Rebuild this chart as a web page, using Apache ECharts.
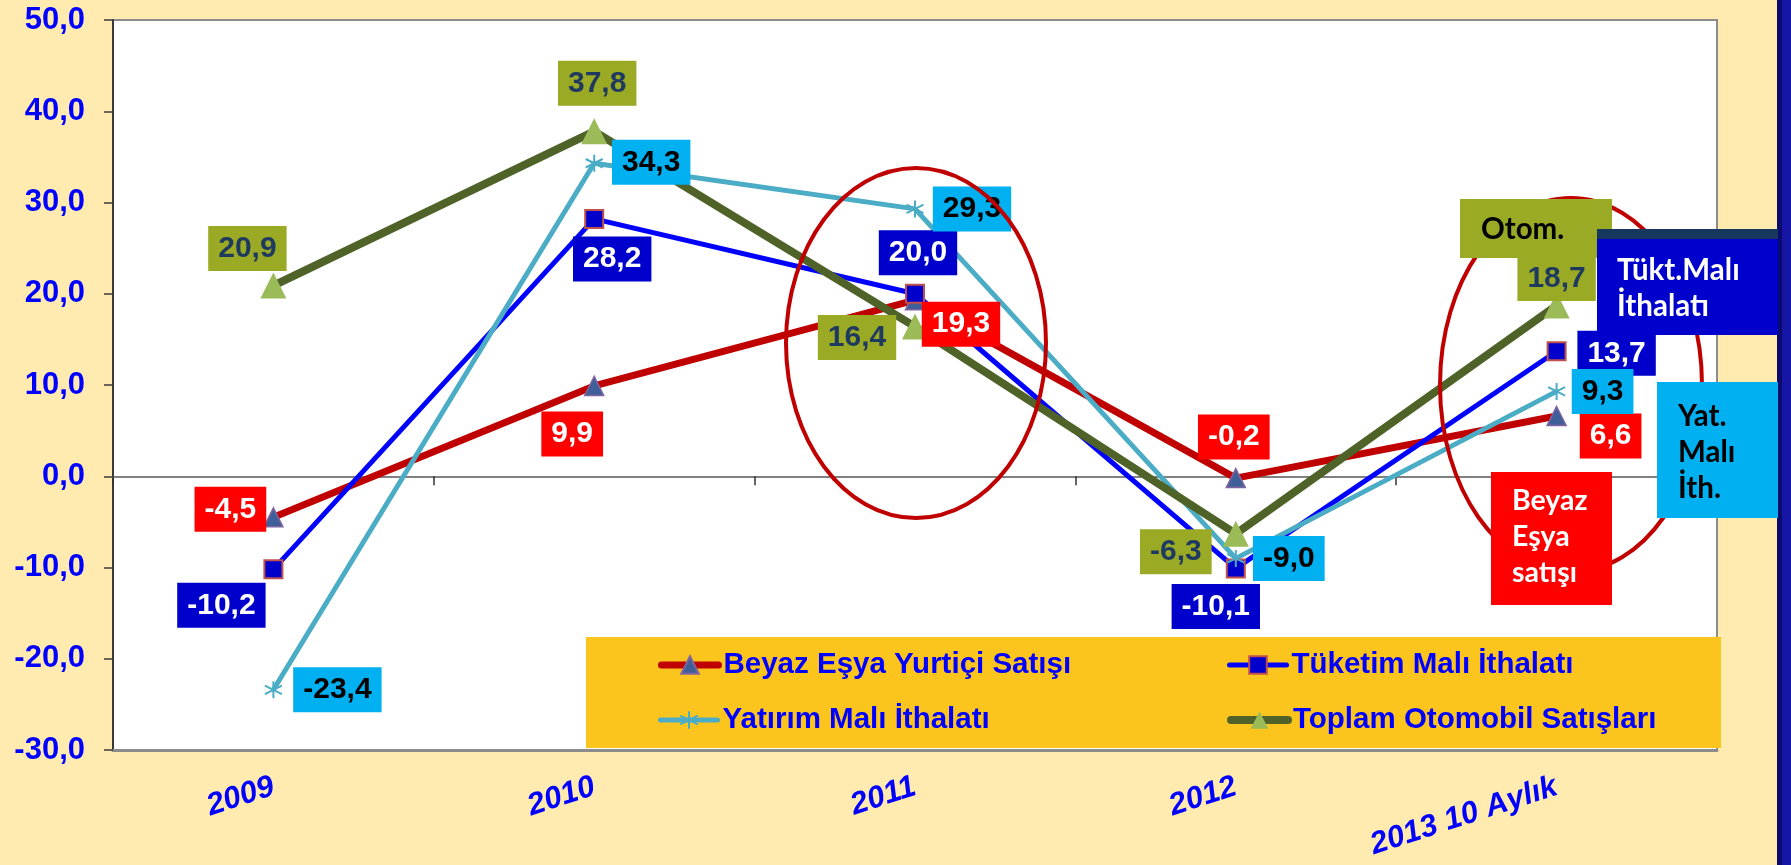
<!DOCTYPE html>
<html>
<head>
<meta charset="utf-8">
<style>
  html, body { margin: 0; padding: 0; background: #FFEAAF; }
  #chart { width: 1791px; height: 865px; }
</style>
</head>
<body>
<div id="chart"></div>
<script src="https://cdn.jsdelivr.net/npm/echarts@6/dist/echarts.min.js"></script>
<script>
// data
var years = ['2009', '2010', '2011', '2012', '2013 10 Aylık'];
var beyazEsya = [-4.5, 9.9, 19.3, -0.2, 6.6];
var tuketim = [-10.2, 28.2, 20.0, -10.1, 13.7];
var yatirim = [-23.4, 34.3, 29.3, -9.0, 9.3];
var otomobil = [20.9, 37.8, 16.4, -6.3, 18.7];
var yMin = -30, yMax = 50, yStep = 10;

// where each value box sits, relative to its point (styling only)
var beyazOffsets = [[-43, -8], [-22, 48], [46, 24], [-2, -41], [54, 20]];
var tuketimOffsets = [[-52, 36], [18, 40], [3, -41], [-20, 38], [60, 2]];
var yatirimOffsets = [[64, 0], [57, -1], [57, 0], [53, 0], [46, 0]];
var otomobilOffsets = [[-26, -37], [3, -48], [-58, 11], [-60, 18], [0, -27]];

var FONT = '"Liberation Sans", Arial, sans-serif';
var NOTE_FONT = 'Lato, "Open Sans", sans-serif';

function fmt(v) {
    return Number(v).toFixed(1).replace('.', ',');
}

function withLabels(values, offsets) {
    return values.map(function (v, i) {
        return { value: v, label: { offset: offsets[i] } };
    });
}

function valueLabel(bg, color) {
    return {
        show: true,
        position: 'inside',
        formatter: function (p) { return fmt(p.value); },
        fontFamily: FONT,
        fontWeight: 'bold',
        fontSize: 30,
        lineHeight: 31,
        padding: [7, 10],
        color: color,
        backgroundColor: bg,
        textBorderWidth: 0,
        textBorderColor: 'transparent'
    };
}

var asterisk = 'path://M10,0L10,20M1.34,5L18.66,15M1.34,15L18.66,5';

var chart = echarts.init(document.getElementById('chart'));

var legendText = {
    color: '#0000FF',
    fontFamily: FONT,
    fontWeight: 'bold',
    fontSize: 29.5
};

function legendAt(name, left, top) {
    return {
        data: [name],
        left: left,
        top: top,
        padding: 0,
        itemWidth: 57,
        itemHeight: 22,
        selectedMode: false,
        textStyle: legendText,
        lineStyle: { width: 'inherit', cap: 'round' }
    };
}

function noteText(x, y, text, color, size) {
    return {
        type: 'text',
        x: x,
        y: y,
        z: 120,
        style: {
            text: text,
            fill: color,
            font: 'bold ' + size + 'px ' + NOTE_FONT,
            lineHeight: 36,
            textVerticalAlign: 'top'
        }
    };
}

chart.setOption({
    backgroundColor: '#FFEAAF',
    animation: false,
    grid: {
        left: 113,
        right: 74,
        top: 20,
        bottom: 115,
        show: true,
        backgroundColor: '#FFFFFF',
        borderColor: '#8C8C8C',
        borderWidth: 2
    },
    legend: [
        legendAt('Beyaz Eşya Yurtiçi Satışı', 658, 650),
        legendAt('Tüketim Malı İthalatı', 1227, 650),
        legendAt('Yatırım Malı İthalatı', 658, 705),
        legendAt('Toplam Otomobil Satışları', 1227, 705)
    ],
    xAxis: [{
        type: 'category',
        data: years,
        position: 'bottom',
        boundaryGap: true,
        axisLine: { onZero: false, lineStyle: { color: '#8C8C8C', width: 3 } },
        axisTick: { show: false },
        axisLabel: {
            interval: 0,
            rotate: 18,
            margin: 36,
            color: '#0000FF',
            fontFamily: FONT,
            fontWeight: 'bold',
            fontStyle: 'italic',
            fontSize: 31
        },
        splitLine: { show: false }
    }, {
        type: 'category',
        data: years,
        position: 'bottom',
        boundaryGap: true,
        axisLine: { onZero: true, lineStyle: { color: '#808080', width: 2 } },
        axisTick: { show: true, length: 9, lineStyle: { color: '#333333', width: 1.5 } },
        axisLabel: { show: false },
        splitLine: { show: false }
    }],
    yAxis: {
        type: 'value',
        min: yMin,
        max: yMax,
        interval: yStep,
        axisLine: { show: true, lineStyle: { color: '#3A3A3A', width: 2 } },
        axisTick: { show: true, length: 9, lineStyle: { color: '#3A3A3A', width: 1.5 } },
        axisLabel: {
            margin: 28,
            color: '#0000FF',
            fontFamily: FONT,
            fontWeight: 'bold',
            fontSize: 31,
            formatter: fmt
        },
        splitLine: { show: false }
    },
    series: [{
        name: 'Beyaz Eşya Yurtiçi Satışı',
        type: 'line',
        data: withLabels(beyazEsya, beyazOffsets),
        symbol: 'triangle',
        symbolSize: 19,
        itemStyle: { color: '#3F5F99', borderColor: '#8064A2', borderWidth: 1.5 },
        lineStyle: { color: '#C00000', width: 7 },
        label: valueLabel('#FF0000', '#FFFFFF')
    }, {
        name: 'Tüketim Malı İthalatı',
        type: 'line',
        data: withLabels(tuketim, tuketimOffsets),
        symbol: 'rect',
        symbolSize: 18,
        itemStyle: { color: '#0000CC', borderColor: '#C0504D', borderWidth: 2 },
        lineStyle: { color: '#0000FF', width: 5 },
        label: valueLabel('#0000CC', '#FFFFFF')
    }, {
        name: 'Yatırım Malı İthalatı',
        type: 'line',
        data: withLabels(yatirim, yatirimOffsets),
        symbol: asterisk,
        symbolSize: 17,
        itemStyle: { color: '#4BACC6', borderColor: '#4BACC6', borderWidth: 2 },
        lineStyle: { color: '#4BACC6', width: 5 },
        label: valueLabel('#00B0F0', '#000000')
    }, {
        name: 'Toplam Otomobil Satışları',
        type: 'line',
        data: withLabels(otomobil, otomobilOffsets),
        symbol: 'triangle',
        symbolSize: 26,
        itemStyle: { color: '#9BBB59' },
        lineStyle: { color: '#4F6228', width: 8 },
        label: valueLabel('#9BAA25', '#1F3A5F')
    }],
    graphic: [
        // slide frame on the right
        { type: 'rect', z: 0, shape: { x: 1777, y: 0, width: 5, height: 865 }, style: { fill: '#0A0A6E' } },
        { type: 'rect', z: 0, shape: { x: 1782, y: 0, width: 9, height: 865 }, style: { fill: '#1616A6' } },
        // legend panel
        { type: 'rect', z: 1, shape: { x: 586, y: 637, width: 1135, height: 111 }, style: { fill: '#FCC51E' } },
        // highlight rings
        { type: 'ellipse', z: 100, shape: { cx: 916, cy: 343, rx: 130, ry: 175 },
          style: { fill: null, stroke: '#C00000', lineWidth: 4 } },
        { type: 'ellipse', z: 100, shape: { cx: 1571, cy: 385, rx: 131, ry: 187 },
          style: { fill: null, stroke: '#C00000', lineWidth: 4 } },
        // side notes
        { type: 'rect', z: 110, shape: { x: 1460, y: 199, width: 152, height: 59 }, style: { fill: '#9BAA25' } },
        noteText(1481, 211, 'Otom.', '#000000', 29.5),
        { type: 'rect', z: 110, shape: { x: 1597, y: 229, width: 181, height: 10 }, style: { fill: '#17375E' } },
        { type: 'rect', z: 110, shape: { x: 1597, y: 239, width: 181, height: 96 }, style: { fill: '#0000CC' } },
        noteText(1617, 252, 'Tükt.Malı\nİthalatı', '#FFFFFF', 29.5),
        { type: 'rect', z: 110, shape: { x: 1657, y: 382, width: 121, height: 136 }, style: { fill: '#00B0F0' } },
        noteText(1678, 398, 'Yat.\nMalı\nİth.', '#000000', 29.5),
        { type: 'rect', z: 110, shape: { x: 1491, y: 472, width: 121, height: 133 }, style: { fill: '#FF0000' } },
        noteText(1512, 483, 'Beyaz\nEşya\nsatışı', '#FFFFFF', 28.5)
    ]
});
</script>
</body>
</html>
